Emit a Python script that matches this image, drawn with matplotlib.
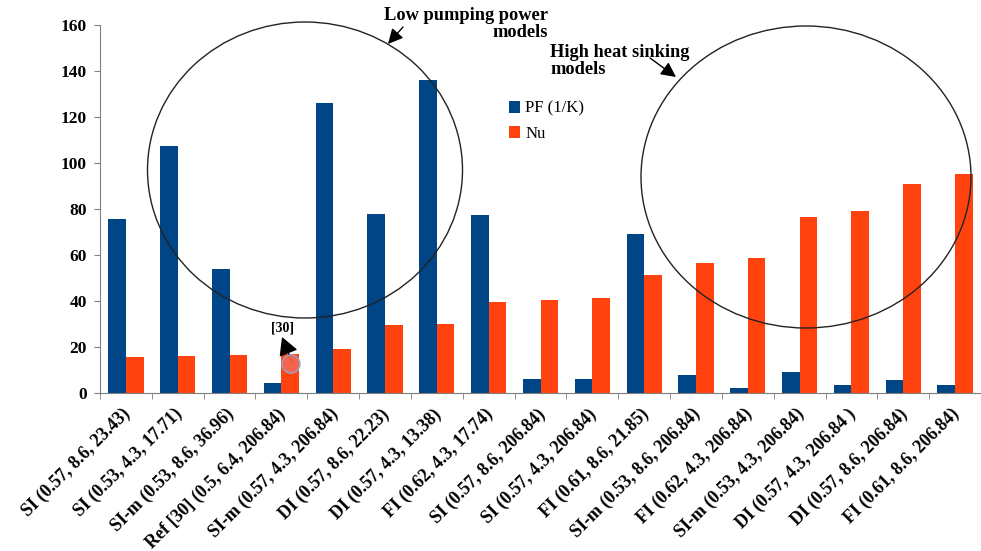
import numpy as np
import matplotlib
matplotlib.use("Agg")
import matplotlib.pyplot as plt
from matplotlib.patches import Ellipse

plt.rcParams['font.family'] = ['Liberation Serif', 'DejaVu Serif']

labels = [
    'SI (0.57, 8.6, 23.43)', 'SI (0.53, 4.3, 17.71)', 'SI-m (0.53, 8.6, 36.96)',
    'Ref [30] (0.5, 6.4, 206.84)', 'SI-m (0.57, 4.3, 206.84)', 'DI (0.57, 8.6, 22.23)',
    'DI (0.57, 4.3, 13.38)', 'FI (0.62, 4.3, 17.74)', 'SI (0.57, 8.6, 206.84)',
    'SI (0.57, 4.3, 206.84)', 'FI (0.61, 8.6, 21.85)', 'SI-m (0.53, 8.6, 206.84)',
    'FI (0.62, 4.3, 206.84)', 'SI-m (0.53, 4.3, 206.84)', 'DI (0.57, 4.3, 206.84 )',
    'DI (0.57, 8.6, 206.84)', 'FI (0.61, 8.6, 206.84)',
]
pf = [75.5, 107.5, 54, 4.5, 126, 78, 136, 77.5, 6, 6, 69, 8, 2, 9, 3.5, 5.5, 3.5]
nu = [15.5, 16, 16.5, 17, 19, 29.5, 30, 39.5, 40.5, 41.5, 51.5, 56.5, 58.5, 76.5, 79, 91, 95]

W, H = 981, 551


def fpos(px, py):
    # pixel position in the picture -> figure fraction
    return px / W, 1 - py / H


fig = plt.figure(figsize=(W / 100, H / 100), dpi=100)
ax = fig.add_axes([100 / W, 158 / H, 881 / W, 368 / H])

x = np.arange(len(labels))
bw = 0.34
ax.bar(x - bw / 2, pf, bw, color='#004586', label='PF (1/K)')
ax.bar(x + bw / 2, nu, bw, color='#ff420e', label='Nu')

ax.set_xlim(-0.5, 16.31)
ax.set_ylim(0, 160)
ax.set_yticks(range(0, 161, 20))
ax.set_xticks(x - 0.08)
ax.set_xticklabels(labels, rotation=45, ha='right', rotation_mode='anchor',
                   fontsize=13, fontweight='bold')
ax.set_xticks(np.arange(-0.5, len(labels), 1), minor=True)
ax.tick_params(axis='x', which='major', length=0, pad=9)
ax.tick_params(axis='x', which='minor', length=4, color='#808080', direction='out')
ax.tick_params(axis='y', length=4, color='#808080', direction='out', pad=5.5,
               labelsize=12.5)
for t in ax.get_yticklabels():
    t.set_fontweight('bold')

for s in ['top', 'right']:
    ax.spines[s].set_visible(False)
for s in ['left', 'bottom']:
    ax.spines[s].set_color('#808080')

ax.legend(loc='upper left', bbox_to_anchor=fpos(502, 94), bbox_transform=fig.transFigure,
          frameon=False, fontsize=12, handlelength=0.7, handleheight=0.7,
          handletextpad=0.3, labelspacing=0.55, borderaxespad=0)

# circled groups
fig.add_artist(Ellipse(fpos(305, 170), 315 / W, 296 / H, transform=fig.transFigure,
                       fill=False, edgecolor='#222222', lw=1.0))
fig.add_artist(Ellipse(fpos(806, 177), 330 / W, 302 / H, transform=fig.transFigure,
                       fill=False, edgecolor='#222222', lw=1.0))

fig.text(*fpos(548, 24), 'Low pumping power\nmodels', ha='right', va='center',
         multialignment='right', fontsize=13.2, fontweight='bold', linespacing=1.0)
fig.text(*fpos(550, 61), 'High heat sinking\nmodels', ha='left', va='center',
         multialignment='left', fontsize=13.2, fontweight='bold', linespacing=1.0)

arrow = dict(arrowstyle='-|>,head_length=0.9,head_width=0.45', color='black', lw=1,
             shrinkA=0, shrinkB=0)
ax.annotate('', xy=fpos(388, 44), xycoords='figure fraction',
            xytext=fpos(403, 27), textcoords='figure fraction', arrowprops=arrow)
ax.annotate('', xy=fpos(676, 77), xycoords='figure fraction',
            xytext=fpos(650, 58), textcoords='figure fraction', arrowprops=arrow)

# Ref [30] marker
fig.add_artist(Ellipse(fpos(291, 364), 18 / W, 18 / H, transform=fig.transFigure,
                       facecolor='#f36a55', edgecolor='#8fa8d8', lw=1.2, alpha=0.85))
ax.annotate('', xy=fpos(282, 337), xycoords='figure fraction',
            xytext=fpos(292, 362), textcoords='figure fraction',
            arrowprops=dict(arrowstyle='-|>,head_length=1.1,head_width=0.6',
                            color='black', lw=1, shrinkA=0, shrinkB=0))
fig.text(*fpos(283, 328), '[30]', ha='center', va='center', fontsize=10,
         fontweight='bold')

fig.savefig('out.png', dpi=100)
